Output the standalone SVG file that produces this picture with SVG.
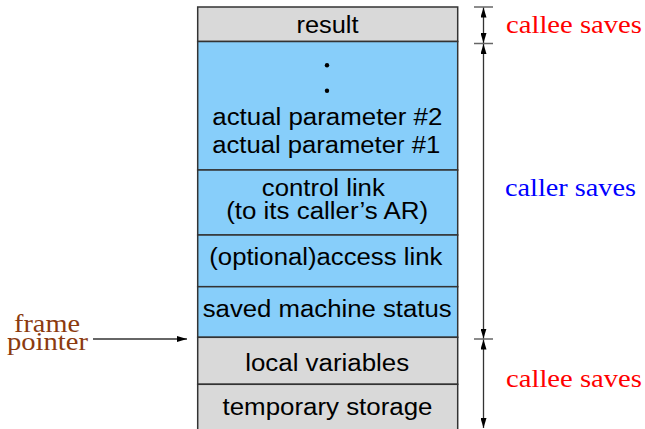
<svg xmlns="http://www.w3.org/2000/svg" width="645" height="429" viewBox="0 0 645 429">
<style>
.box{stroke:#333;stroke-width:1.5}
.g{fill:#d9d9d9}
.b{fill:#87cefa}
.t{font-family:"Liberation Sans",Arial,sans-serif;font-size:23px;fill:#000;text-anchor:middle}
.s{font-family:"Liberation Serif","Times New Roman",serif;font-size:26px}
.tick{stroke:#666;stroke-width:1.5}
.dim{stroke:#333;stroke-width:1.3;fill:none}
</style>
<defs>
<marker id="ah" viewBox="0 0 10 6" refX="10" refY="3" markerWidth="10" markerHeight="6" markerUnits="userSpaceOnUse" orient="auto-start-reverse">
<path d="M0,0 L10,3 L0,6 Z" fill="#000"/>
</marker>
</defs>
<g id="result"><rect class="box g" x="197.7" y="7" width="260" height="34.5"/><text class="t" x="327.5" y="33" textLength="62" lengthAdjust="spacingAndGlyphs">result</text></g>
<g id="params"><rect class="box b" x="197.7" y="41.5" width="260" height="128.5"/>
<circle cx="327" cy="65.3" r="2.2" fill="#000"/><circle cx="327" cy="90.7" r="2.2" fill="#000"/>
<text class="t" x="327.3" y="125" textLength="230" lengthAdjust="spacingAndGlyphs">actual parameter #2</text>
<text class="t" x="326.2" y="153.3" textLength="228" lengthAdjust="spacingAndGlyphs">actual parameter #1</text></g>
<g id="control"><rect class="box b" x="197.7" y="170" width="260" height="65"/>
<text class="t" x="323.3" y="195.7" textLength="123" lengthAdjust="spacingAndGlyphs">control link</text>
<text class="t" x="327.2" y="218.8" textLength="202" lengthAdjust="spacingAndGlyphs">(to its caller’s AR)</text></g>
<g id="access"><rect class="box b" x="197.7" y="235" width="260" height="51.7"/>
<text class="t" x="325.8" y="265" textLength="233" lengthAdjust="spacingAndGlyphs">(optional)access link</text></g>
<g id="saved"><rect class="box b" x="197.7" y="286.7" width="260" height="50.6"/>
<text class="t" x="327.2" y="317.3" textLength="249" lengthAdjust="spacingAndGlyphs">saved machine status</text></g>
<g id="locals"><rect class="box g" x="197.7" y="337.3" width="260" height="47"/>
<text class="t" x="327.2" y="370.7" textLength="164" lengthAdjust="spacingAndGlyphs">local variables</text></g>
<g id="temp"><rect class="box g" x="197.7" y="384.3" width="260" height="50"/>
<text class="t" x="327.5" y="415" textLength="210" lengthAdjust="spacingAndGlyphs">temporary storage</text></g>
<g id="fp"><text class="s" fill="#8b3a0f" x="47" y="332" text-anchor="middle" textLength="66" lengthAdjust="spacingAndGlyphs">frame</text>
<text class="s" fill="#8b3a0f" x="47.5" y="350" text-anchor="middle" textLength="81" lengthAdjust="spacingAndGlyphs">pointer</text></g>
<g id="labels">
<text class="s" fill="#ff0000" x="506" y="33" textLength="136" lengthAdjust="spacingAndGlyphs">callee saves</text>
<text class="s" fill="#0000ff" x="505" y="196" textLength="131" lengthAdjust="spacingAndGlyphs">caller saves</text>
<text class="s" fill="#ff0000" x="506" y="387" textLength="136" lengthAdjust="spacingAndGlyphs">callee saves</text>
</g>
<g id="connectors">
<line x1="93" y1="339" x2="187" y2="339" stroke="#333" stroke-width="1.5" marker-end="url(#ah)"/>
<line class="tick" x1="474" y1="7" x2="493" y2="7"/>
<line class="tick" x1="474" y1="43.5" x2="493" y2="43.5"/>
<line class="tick" x1="474" y1="339" x2="493" y2="339"/>
<line class="dim" x1="483.5" y1="7.5" x2="483.5" y2="43" marker-start="url(#ah)" marker-end="url(#ah)"/>
<line class="dim" x1="483.5" y1="44" x2="483.5" y2="338.5" marker-start="url(#ah)" marker-end="url(#ah)"/>
<line class="dim" x1="483.5" y1="339.5" x2="483.5" y2="428" marker-start="url(#ah)" marker-end="url(#ah)"/>
</g>
</svg>
